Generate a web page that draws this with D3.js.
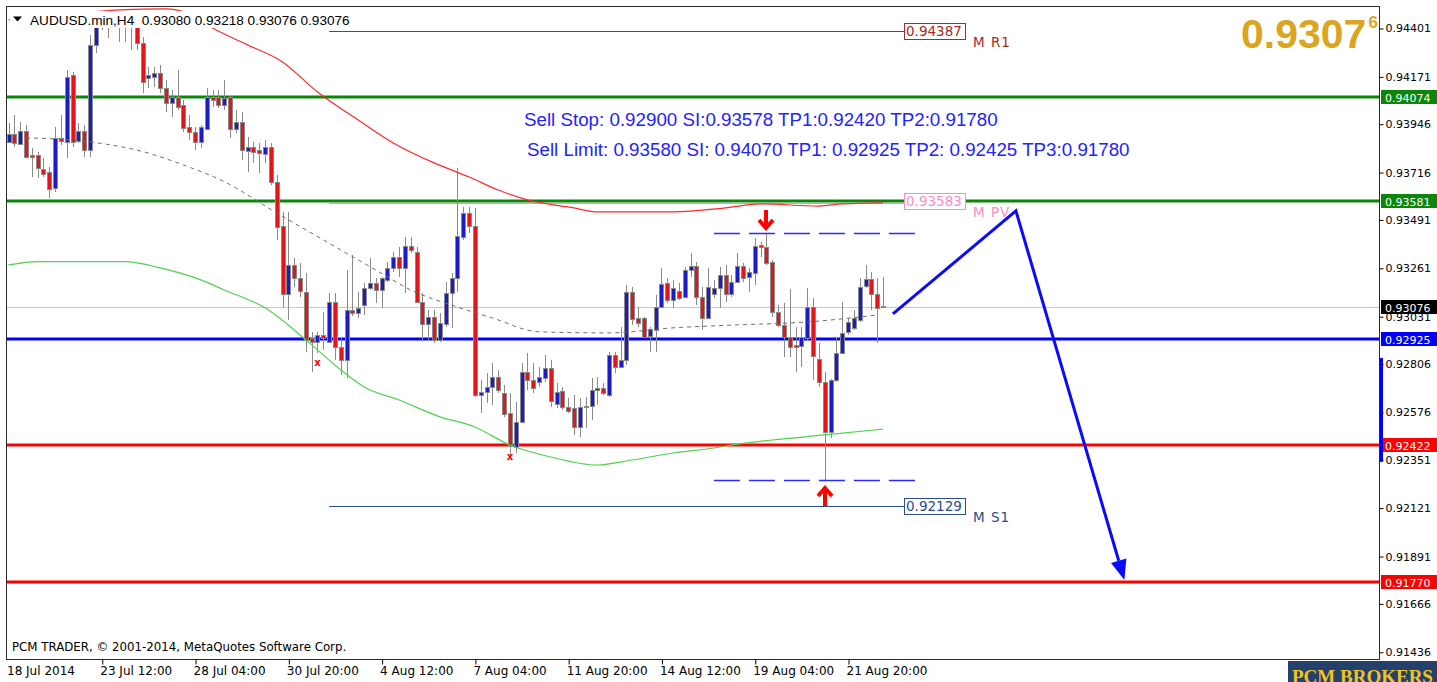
<!DOCTYPE html>
<html>
<head>
<meta charset="utf-8">
<script src="https://cdn.jsdelivr.net/npm/d3@7"></script>
<style>
body { margin: 0; background: #fff; }
svg { display: block; }
</style>
</head>
<body>
<script>
// AUDUSD H4 candles, 18 Jul 2014 20:00 .. 22 Aug 2014
var opens = [0.93863,0.93900,0.93855,0.93915,0.93800,0.93800,0.93735,0.93720,0.93641,0.93879,
  0.93863,0.94180,0.93866,0.93915,0.93824,0.94323,0.94432,0.94451,0.94422,0.94460,
  0.94432,0.94451,0.94422,0.94334,0.94164,0.94172,0.94190,0.94118,0.94047,0.94077,
  0.94038,0.93934,0.93911,0.93863,0.93927,0.94077,0.94077,0.94038,0.94077,0.93927,
  0.93958,0.93820,0.93839,0.93824,0.93808,0.93839,0.93673,0.93462,0.93139,0.93277,
  0.93214,0.93150,0.92929,0.92912,0.92944,0.92912,0.93103,0.92889,0.92826,0.93063,
  0.93047,0.93087,0.93166,0.93190,0.93155,0.93206,0.93261,0.93314,0.93261,0.93367,
  0.93340,0.93103,0.93000,0.93031,0.92921,0.93000,0.93145,0.93214,0.93411,0.93523,
  0.93462,0.92659,0.92675,0.92699,0.92746,0.92667,0.92572,0.92413,0.92532,0.92770,
  0.92730,0.92722,0.92739,0.92786,0.92620,0.92680,0.92603,0.92596,0.92508,0.92601,
  0.92607,0.92680,0.92691,0.92659,0.92849,0.92794,0.92826,0.93150,0.93024,0.93024,
  0.92940,0.92971,0.93079,0.93193,0.93111,0.93155,0.93123,0.93253,0.93272,0.93126,
  0.93028,0.93139,0.93166,0.93230,0.93139,0.93198,0.93272,0.93221,0.93238,0.93372,
  0.93364,0.93293,0.93055,0.92992,0.92936,0.92897,0.92892,0.92933,0.93076,0.92829,
  0.92722,0.92485,0.92730,0.92860,0.92960,0.92976,0.93019,0.93174,0.93209,0.93139,
  0.93080];
var highs = [0.93952,0.93990,0.93958,0.93942,0.93833,0.93816,0.93786,0.93744,0.93934,0.93990,
  0.94204,0.94194,0.93952,0.93942,0.94370,0.94470,0.94484,0.94480,0.94484,0.94480,
  0.94475,0.94470,0.94460,0.94362,0.94220,0.94220,0.94228,0.94156,0.94109,0.94204,
  0.94061,0.93990,0.93934,0.93942,0.94117,0.94109,0.94109,0.94156,0.94080,0.94014,
  0.94006,0.93887,0.93863,0.93855,0.93871,0.93857,0.93705,0.93530,0.93530,0.93309,
  0.93285,0.93238,0.92960,0.92960,0.93055,0.93143,0.93143,0.92929,0.93253,0.93325,
  0.93150,0.93190,0.93309,0.93214,0.93221,0.93293,0.93340,0.93364,0.93412,0.93412,
  0.93364,0.93143,0.93063,0.93063,0.93047,0.93198,0.93238,0.93737,0.93554,0.93554,
  0.93546,0.92730,0.92762,0.92810,0.92778,0.92707,0.92667,0.92627,0.92810,0.92857,
  0.92810,0.92794,0.92849,0.92826,0.92715,0.92699,0.92643,0.92659,0.92643,0.92651,
  0.92739,0.92746,0.92715,0.92865,0.92865,0.92984,0.93182,0.93174,0.93079,0.93031,
  0.92984,0.93134,0.93261,0.93214,0.93206,0.93190,0.93269,0.93333,0.93293,0.93174,
  0.93261,0.93206,0.93269,0.93277,0.93230,0.93333,0.93285,0.93261,0.93404,0.93388,
  0.93431,0.93301,0.93087,0.93095,0.93162,0.92981,0.92984,0.93166,0.93119,0.92905,
  0.92770,0.92734,0.92929,0.93103,0.93024,0.93063,0.93214,0.93277,0.93245,0.93214,
  0.93218];
var lows = [0.93857,0.93839,0.93847,0.93786,0.93697,0.93690,0.93697,0.93594,0.93625,0.93847,
  0.93784,0.93839,0.93857,0.93792,0.93792,0.94283,0.94394,0.94354,0.94408,0.94338,
  0.94338,0.94299,0.94299,0.94093,0.94117,0.94123,0.94095,0.94004,0.93982,0.94014,
  0.93911,0.93871,0.93824,0.93832,0.93919,0.94029,0.94023,0.94014,0.93879,0.93903,
  0.93776,0.93720,0.93760,0.93713,0.93760,0.93657,0.93396,0.93071,0.93016,0.93174,
  0.93126,0.92865,0.92770,0.92857,0.92873,0.92905,0.92826,0.92754,0.92739,0.93035,
  0.93024,0.93039,0.93158,0.93095,0.93071,0.93198,0.93245,0.93221,0.93143,0.93333,
  0.93095,0.92921,0.92921,0.92905,0.92912,0.92984,0.92976,0.93150,0.93396,0.93428,
  0.92651,0.92572,0.92620,0.92612,0.92667,0.92556,0.92374,0.92382,0.92525,0.92683,
  0.92667,0.92699,0.92722,0.92603,0.92596,0.92588,0.92572,0.92469,0.92461,0.92501,
  0.92540,0.92612,0.92659,0.92651,0.92762,0.92790,0.92802,0.92992,0.92984,0.92929,
  0.92865,0.92865,0.93071,0.93095,0.93071,0.93111,0.93119,0.93221,0.93087,0.92968,
  0.93024,0.93119,0.93071,0.93103,0.93126,0.93190,0.93198,0.93150,0.93182,0.93316,
  0.93277,0.93031,0.92984,0.92841,0.92841,0.92770,0.92794,0.92921,0.92730,0.92699,
  0.92255,0.92453,0.92722,0.92857,0.92944,0.92968,0.93008,0.93166,0.93063,0.92908,
  0.93076];
var closes = [0.93900,0.93855,0.93915,0.93792,0.93789,0.93737,0.93713,0.93641,0.93879,0.93863,
  0.94172,0.93863,0.93915,0.93824,0.94323,0.94432,0.94451,0.94422,0.94460,0.94432,
  0.94451,0.94413,0.94331,0.94148,0.94180,0.94191,0.94117,0.94047,0.94077,0.94029,
  0.93927,0.93911,0.93863,0.93934,0.94077,0.94061,0.94038,0.94069,0.93927,0.93958,
  0.93824,0.93839,0.93816,0.93808,0.93839,0.93673,0.93461,0.93139,0.93277,0.93214,
  0.93150,0.92921,0.92912,0.92944,0.92929,0.93103,0.92889,0.92826,0.93063,0.93047,
  0.93071,0.93166,0.93190,0.93155,0.93214,0.93261,0.93314,0.93261,0.93367,0.93348,
  0.93103,0.93000,0.93031,0.92921,0.93000,0.93145,0.93214,0.93415,0.93523,0.93459,
  0.92659,0.92675,0.92699,0.92746,0.92683,0.92569,0.92413,0.92532,0.92770,0.92730,
  0.92691,0.92746,0.92786,0.92627,0.92675,0.92603,0.92585,0.92508,0.92603,0.92607,
  0.92683,0.92691,0.92667,0.92849,0.92794,0.92826,0.93150,0.93024,0.93000,0.92936,
  0.92971,0.93079,0.93187,0.93111,0.93166,0.93123,0.93253,0.93272,0.93123,0.93028,
  0.93174,0.93166,0.93230,0.93139,0.93198,0.93272,0.93214,0.93245,0.93367,0.93364,
  0.93288,0.93055,0.92992,0.92936,0.92889,0.92889,0.92933,0.93079,0.92841,0.92722,
  0.92485,0.92730,0.92860,0.92955,0.93008,0.93024,0.93174,0.93209,0.93139,0.93071,
  0.93076];

// moving averages, read at some bars: [bar, price]
var maRed = [[0,0.94442],[9,0.94465],[19,0.94489],[27,0.94494],[31,0.94470],[35,0.94403],
  [41,0.94323],[47,0.94242],[53,0.94099],[60,0.93966],[66,0.93857],[73,0.93762],[79,0.93695],
  [84,0.93633],[89,0.93586],[97,0.93548],[101,0.93529],[114,0.93529],[123,0.93548],
  [129,0.93567],[139,0.93557],[143,0.93567],[150,0.93572]];
var maGreen = [[0,0.93277],[5,0.93293],[20,0.93293],[26,0.93263],[33,0.93206],[37,0.93158],
  [44,0.93073],[51,0.92921],[57,0.92778],[61,0.92697],[67,0.92635],[74,0.92555],[80,0.92507],
  [86,0.92421],[93,0.92364],[101,0.92326],[107,0.92350],[114,0.92383],[121,0.92407],
  [124,0.92421],[131,0.92445],[140,0.92469],[150,0.92497]];
var maGrey = [[3,0.93881],[8,0.93876],[15,0.93858],[23,0.93816],[30,0.93752],[37,0.93673],
  [46,0.93524],[54,0.93396],[63,0.93253],[69,0.93158],[77,0.93077],[83,0.93025],[91,0.92959],
  [103,0.92954],[114,0.92978],[125,0.92992],[137,0.93006],[149,0.93039]];

var priceTicks = [0.94401,0.94171,0.93946,0.93716,0.93491,0.93261,0.93031,0.92806,0.92576,0.92351,0.92121,0.91891,0.91666,0.91436];
var timeTicks = [0,16,32,48,64,80,96,112,128,144];
var timeLabels = ["18 Jul 2014","23 Jul 12:00","28 Jul 04:00","30 Jul 20:00","4 Aug 12:00","7 Aug 04:00","11 Aug 20:00","14 Aug 12:00","19 Aug 04:00","21 Aug 20:00"];

var greenLevels = [0.94074, 0.93581];
var blueLevels = [0.92925];
var redLevels = [0.92422, 0.91770];
var lastPrice = 0.93076;

var pivotNames = ["M R1", "M PV", "M S1"];
var pivotValues = [0.94387, 0.93583, 0.92129];
var pivotStartBar = 55;

var dashValues = [0.93431, 0.92255];
var dashBars = [121, 155.5];
var arrowDownBar = 130, arrowUpBar = 140;

var projBars = [151.7, 172.8, 191.4];
var projPrices = [0.93044, 0.93534, 0.91780];

var markBars = [53, 86];
var markPrices = [0.92817, 0.92370];

var headerText = "AUDUSD.min,H4  0.93080 0.93218 0.93076 0.93076";
var noteLines = ["Sell Stop: 0.92900 SI:0.93578 TP1:0.92420 TP2:0.91780",
  "Sell Limit: 0.93580 SI: 0.94070 TP1: 0.92925 TP2: 0.92425 TP3:0.91780"];

var W = 1437, H = 682;
var plotL = 7, plotR = 1379, plotT = 7, plotB = 659;

var x = d3.scaleLinear().domain([0, 150]).range([8.5, 8.5 + 150 * 5.83]);
var y = d3.scaleLinear().domain([0.91404, 0.94503]).range([plotB, plotT]);

function px(v) { return Math.round(v) + 0.5; }

var svg = d3.select("body").append("svg")
    .attr("width", W)
    .attr("height", H)
    .style("font-family", "'DejaVu Sans', sans-serif");

svg.append("rect").attr("width", W).attr("height", H).attr("fill", "#fff");

svg.append("clipPath").attr("id", "plot")
  .append("rect").attr("x", plotL).attr("y", plotT).attr("width", plotR - plotL).attr("height", plotB - plotT);

var plot = svg.append("g").attr("clip-path", "url(#plot)");

// thin current price line
plot.append("line")
    .attr("x1", plotL).attr("x2", plotR)
    .attr("y1", px(y(lastPrice))).attr("y2", px(y(lastPrice)))
    .attr("stroke", "#c8c8c8");

// pivot lines
var pivotColors = ["#a52a2a", "#ff8cc6", "#2b4c8c"];
var pivotEndX = x(150) + 21;
pivotValues.forEach(function(v, k) {
  plot.append("line")
      .attr("x1", x(pivotStartBar)).attr("x2", pivotEndX)
      .attr("y1", px(y(v))).attr("y2", px(y(v)))
      .attr("stroke", pivotColors[k]);
});

function hline(v, color) {
  plot.append("line")
      .attr("x1", plotL).attr("x2", plotR)
      .attr("y1", Math.round(y(v))).attr("y2", Math.round(y(v)))
      .attr("stroke", color)
      .attr("stroke-width", 3);
}
greenLevels.forEach(function(v) { hline(v, "#0a870a"); });
blueLevels.forEach(function(v) { hline(v, "#0000ff"); });
redLevels.forEach(function(v) { hline(v, "#ff0000"); });

// pink PV line sits just under the green one
plot.append("line")
    .attr("x1", x(pivotStartBar)).attr("x2", pivotEndX)
    .attr("y1", px(y(pivotValues[1])) + 2).attr("y2", px(y(pivotValues[1])) + 2)
    .attr("stroke", pivotColors[1]);

// candles
var bars = d3.range(opens.length).map(function(i) {
  return { i: i, o: opens[i], h: highs[i], l: lows[i], c: closes[i] };
});

var candles = plot.append("g");
candles.selectAll("line")
  .data(bars)
  .enter().append("line")
    .attr("x1", function(d) { return px(x(d.i)); })
    .attr("x2", function(d) { return px(x(d.i)); })
    .attr("y1", function(d) { return Math.round(y(d.h)); })
    .attr("y2", function(d) { return Math.round(y(d.l)); })
    .attr("stroke", "#8a8a8a");

candles.selectAll("rect")
  .data(bars)
  .enter().append("rect")
    .attr("x", function(d) { return Math.round(x(d.i)) - 1.5; })
    .attr("width", 4)
    .attr("y", function(d) { return px(y(Math.max(d.o, d.c))); })
    .attr("height", function(d) { return Math.max(0.01, Math.round(Math.abs(y(d.o) - y(d.c)))); })
    .attr("fill", function(d) { return d.c > d.o ? "#1c1cc0" : "#e0161b"; })
    .attr("stroke", "#8a8a8a");

// moving averages
var maLine = d3.line()
    .x(function(d) { return x(d[0]); })
    .y(function(d) { return y(d[1]); })
    .curve(d3.curveMonotoneX);

plot.append("path").attr("d", maLine(maRed))
    .attr("fill", "none").attr("stroke", "#ff2a2a").attr("stroke-width", 1.2);
plot.append("path").attr("d", maLine(maGreen))
    .attr("fill", "none").attr("stroke", "#4fd04f").attr("stroke-width", 1.2);
plot.append("path").attr("d", maLine(maGrey))
    .attr("fill", "none").attr("stroke", "#6e6e6e").attr("stroke-width", 1)
    .attr("stroke-dasharray", "4,4");

// fractal marks
markBars.forEach(function(b, k) {
  plot.append("text")
      .attr("x", x(b)).attr("y", y(markPrices[k]) + 4)
      .attr("text-anchor", "middle")
      .attr("font-size", 10).attr("font-weight", "bold")
      .attr("fill", "#ff0000")
      .text("x");
});

// dashed high / low lines with red arrows
dashValues.forEach(function(v) {
  plot.append("line")
      .attr("x1", x(dashBars[0])).attr("x2", x(dashBars[1]))
      .attr("y1", px(y(v))).attr("y2", px(y(v)))
      .attr("stroke", "#2a2aff").attr("stroke-width", 1.5)
      .attr("stroke-dasharray", "26,9");
});

var ax = Math.round(x(arrowDownBar)), ay = Math.round(y(dashValues[0])) - 3;
plot.append("path")
    .attr("d", "M" + ax + "," + (ay - 20) + "V" + (ay - 3) + "M" + (ax - 7) + "," + (ay - 10) + "L" + ax + "," + (ay - 2) + "L" + (ax + 7) + "," + (ay - 10))
    .attr("fill", "none").attr("stroke", "#ff0000").attr("stroke-width", 4);
var bx = Math.round(x(arrowUpBar)), by = Math.round(y(dashValues[1])) + 6;
plot.append("path")
    .attr("d", "M" + bx + "," + (by + 20) + "V" + (by + 3) + "M" + (bx - 7) + "," + (by + 10) + "L" + bx + "," + (by + 2) + "L" + (bx + 7) + "," + (by + 10))
    .attr("fill", "none").attr("stroke", "#ff0000").attr("stroke-width", 4);

// projected move
var proj = projBars.map(function(b, k) { return [x(b), y(projPrices[k])]; });
var tip = proj[2], prev = proj[1];
var dx = tip[0] - prev[0], dy = tip[1] - prev[1], len = Math.sqrt(dx * dx + dy * dy);
var ux = dx / len, uy = dy / len;
var baseX = tip[0] - ux * 20, baseY = tip[1] - uy * 20;
plot.append("path")
    .attr("d", "M" + proj[0] + "L" + proj[1] + "L" + [baseX, baseY])
    .attr("fill", "none").attr("stroke", "#0a0aff").attr("stroke-width", 3);
plot.append("path")
    .attr("d", "M" + tip + "L" + [baseX - uy * 8, baseY + ux * 8] + "L" + [baseX + uy * 8, baseY - ux * 8] + "Z")
    .attr("fill", "#0a0aff");

// pivot labels
pivotValues.forEach(function(v, k) {
  var yy = Math.round(y(v));
  svg.append("rect")
      .attr("x", pivotEndX + 0.5).attr("y", yy - 7.5)
      .attr("width", 61).attr("height", 16)
      .attr("fill", "#fff").attr("stroke", pivotColors[k]);
  svg.append("text")
      .attr("x", pivotEndX + 2).attr("y", yy + 5)
      .attr("font-size", 13.5).attr("fill", pivotColors[k])
      .text(d3.format(".5f")(v));
  svg.append("text")
      .attr("x", pivotEndX + 69).attr("y", yy + 16)
      .attr("font-size", 13.5).attr("letter-spacing", 1).attr("fill", pivotColors[k])
      .text(pivotNames[k]);
});

// trade notes
noteLines.forEach(function(t, k) {
  svg.append("text")
      .attr("x", k ? 527 : 524).attr("y", 126 + k * 30)
      .attr("font-family", "'Liberation Sans', Arial, sans-serif")
      .attr("font-size", 18.75).attr("fill", "#2323ff")
      .text(t);
});

// header
svg.append("rect").attr("x", 10).attr("y", 11).attr("width", 342).attr("height", 17).attr("fill", "#fff");
svg.append("path").attr("d", "M13,16.5H22L17.5,21.5Z").attr("fill", "#000");
svg.append("text")
    .attr("x", 30).attr("y", 25)
    .attr("font-family", "'Liberation Sans', Arial, sans-serif")
    .attr("font-size", 13.6).attr("fill", "#000")
    .attr("xml:space", "preserve").style("white-space", "pre")
    .text(headerText);

// big price
var big = svg.append("text")
    .attr("x", 1241).attr("y", 48)
    .attr("font-family", "'Liberation Sans', Arial, sans-serif")
    .attr("font-weight", "bold").attr("fill", "#daa520");
big.append("tspan").attr("font-size", 41).text(d3.format(".5f")(lastPrice).slice(0, 6));
big.append("tspan").attr("font-size", 17).attr("dy", -20).attr("dx", 2).text(d3.format(".5f")(lastPrice).slice(6));

// footer
svg.append("text")
    .attr("x", 12).attr("y", 651)
    .attr("font-size", 11.8).attr("fill", "#000")
    .text("PCM TRADER, \u00a9 2001-2014, MetaQuotes Software Corp.");

// frame
svg.append("rect")
    .attr("x", plotL - 0.5).attr("y", plotT - 0.5)
    .attr("width", plotR - plotL + 1).attr("height", plotB - plotT + 1)
    .attr("fill", "none").attr("stroke", "#2a2a2a");

// right axis
var yAxis = d3.axisRight(y)
    .tickValues(priceTicks)
    .tickSize(4)
    .tickPadding(2)
    .tickFormat(d3.format(".5f"));
var ya = svg.append("g")
    .attr("transform", "translate(" + (plotR + 0.5) + ",0)")
    .call(yAxis);
ya.select(".domain").remove();
ya.selectAll(".tick line").attr("stroke", "#000");
ya.selectAll(".tick text").attr("font-family", "'DejaVu Sans', sans-serif").attr("font-size", 11).attr("fill", "#000");

// colored price labels on the axis
function axisLabel(v, bg) {
  var yy = Math.round(y(v));
  svg.append("rect").attr("x", plotR + 2).attr("y", yy - 7).attr("width", W - plotR - 2).attr("height", 14).attr("fill", bg);
  svg.append("text").attr("x", plotR + 6).attr("y", yy + 4.5)
      .attr("font-size", 11).attr("fill", "#fff")
      .text(d3.format(".5f")(v));
}
greenLevels.forEach(function(v) { axisLabel(v, "#0a870a"); });
axisLabel(lastPrice, "#000");
blueLevels.forEach(function(v) { axisLabel(v, "#0000ff"); });
redLevels.forEach(function(v) { axisLabel(v, "#ff0000"); });

svg.append("rect")
    .attr("x", plotR + 1).attr("y", y(0.92835)).attr("width", 3).attr("height", y(0.92341) - y(0.92835))
    .attr("fill", "#0000ff");

// bottom axis
var xAxis = d3.axisBottom(x)
    .tickValues(timeTicks)
    .tickSize(5)
    .tickFormat(function(d, k) { return timeLabels[k]; });
var xa = svg.append("g")
    .attr("transform", "translate(0," + (plotB + 0.5) + ")")
    .call(xAxis);
xa.select(".domain").remove();
xa.selectAll(".tick line").attr("stroke", "#000").attr("x1", 0.5).attr("x2", 0.5)
    .attr("display", function(d) { return d === 0 ? "none" : null; });
xa.selectAll(".tick text")
    .attr("text-anchor", "start").attr("x", -2).attr("y", 7)
    .attr("font-family", "'DejaVu Sans', sans-serif").attr("font-size", 12).attr("fill", "#000");

// logo
svg.append("rect").attr("x", 1288).attr("y", 661).attr("width", W - 1288).attr("height", 21).attr("fill", "#25406a");
svg.append("text")
    .attr("x", 1292).attr("y", 683)
    .attr("font-family", "'Liberation Serif', 'DejaVu Serif', serif")
    .attr("font-weight", "bold").attr("font-size", 19).attr("fill", "#f2c51e")
    .text("PCM BROKERS");
</script>
</body>
</html>
